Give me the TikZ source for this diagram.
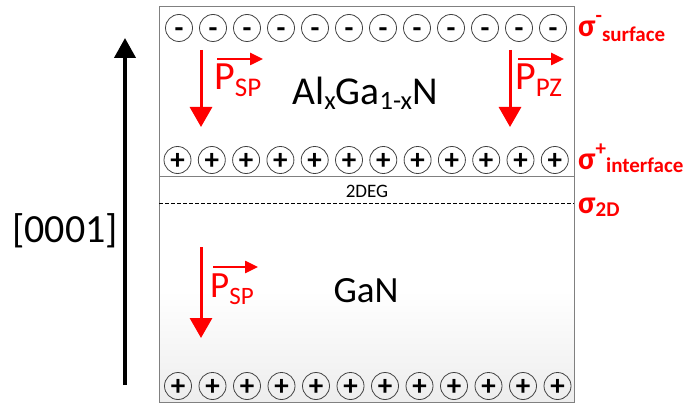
\documentclass[tikz,border=0pt]{standalone}
\usepackage{fontspec}
\setmainfont{Carlito}
\usepackage{xcolor}
\usetikzlibrary{arrows.meta}
\definecolor{polred}{RGB}{255,0,0}
\newcommand{\fsz}[1]{\fontsize{#1}{#1}\selectfont}
\newcommand{\lowtext}[3]{\raisebox{-#1}{\fsz{#2}#3}}

\begin{document}
\begin{tikzpicture}[x=1pt,y=-1pt,
    charge/.style={circle, draw=black!75, line width=0.8pt, minimum size=27pt,
      inner sep=0pt, font=\fsz{29}\bfseries, text height=18.6pt, text depth=0pt},
    droparrow/.style={-{Triangle[width=22pt,length=20pt]}, line width=3pt, polred},
    vecarrow/.style={-{Triangle[width=12pt,length=13pt]}, line width=2.5pt, polred},
    plabel/.style={anchor=base west, inner sep=0pt, text=polred},
    sigmalabel/.style={anchor=base west, inner sep=0pt, text=polred, font=\bfseries}]
  \useasboundingbox (0,0) rectangle (685,406);

  % Layers
  \shade[top color=white, bottom color=black!7] (159,290) rectangle (574,402);
  \draw[black!50, line width=1pt] (159,7) rectangle (574,402);
  \draw[black!50, line width=1pt] (159,177) -- (574,177);
  \draw[dash pattern=on 4pt off 2pt, line width=0.8pt] (159,203) -- (574,203);

  % Charges
  \foreach \i in {0,...,11} {
    \node[charge] (minus\i) at ({179+34*\i},28) {-};
    \node[charge] (plus\i) at ({177.5+34.3*\i},160) {+};
    \node[charge] (ganplus\i) at ({178+34.5*\i},386) {+};
  }

  % Growth direction
  \coordinate (growbot) at (125,385);
  \coordinate (growtop) at (125,38);
  \draw[-{Triangle[width=21pt,length=20pt]}, line width=4pt] (growbot) -- (growtop);
  \node[anchor=base, font=\fsz{40}] (dir) at (65,242) {[0001]};

  % Materials
  \node[anchor=base, font=\fsz{39.5}] (algan) at (365,105)
    {Al\lowtext{5pt}{26.5}{x}Ga\lowtext{5pt}{26.5}{1-x}N};
  \node[anchor=base, font=\fsz{37}] (gan) at (366,302) {GaN};
  \node[anchor=base, font=\fsz{19}] (deg) at (367,197) {2DEG};

  % Polarisation
  \coordinate (spa) at (201,50);  \coordinate (spb) at (201,127);
  \coordinate (pza) at (510,50);  \coordinate (pzb) at (510,127);
  \coordinate (gna) at (201,247); \coordinate (gnb) at (201,338);
  \draw[droparrow] (spa) -- (spb);
  \draw[droparrow] (pza) -- (pzb);
  \draw[droparrow] (gna) -- (gnb);

  \node[plabel, font=\fsz{40}] (psp) at (214,90) {P\lowtext{7pt}{27}{SP}};
  \node[plabel, font=\fsz{40}] (ppz) at (515,90) {P\lowtext{7pt}{27}{PZ}};
  \node[plabel, font=\fsz{37}] (gsp) at (210,297) {P\lowtext{7pt}{25}{SP}};
  \coordinate (vspa) at (217,59);  \coordinate (vspb) at (263,59);
  \coordinate (vpza) at (518,59);  \coordinate (vpzb) at (564,59);
  \coordinate (vgna) at (213,267); \coordinate (vgnb) at (258,267);
  \draw[vecarrow] (vspa) -- (vspb);
  \draw[vecarrow] (vpza) -- (vpzb);
  \draw[vecarrow] (vgna) -- (vgnb);

  % Sheet charges
  \node[sigmalabel] (ssurf) at (578,37)
    {\fsz{32}σ\raisebox{14pt}{\fsz{21}-}\raisebox{-5pt}{\fsz{21}surface}};
  \node[sigmalabel] (sint) at (578,170)
    {\fsz{32}σ\raisebox{14pt}{\fsz{21}+}\raisebox{-3pt}{\fsz{21}interface}};
  \node[sigmalabel] (stwod) at (578,213)
    {\fsz{32}σ\raisebox{-4pt}{\fsz{21}2D}};
\end{tikzpicture}
\end{document}
